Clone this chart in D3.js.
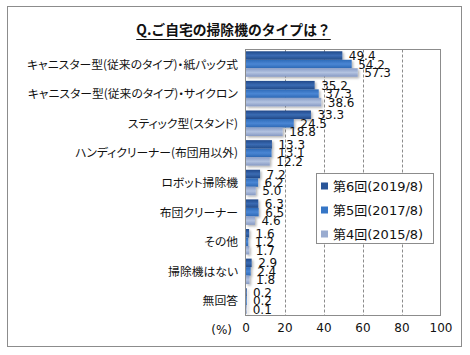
<!DOCTYPE html>
<html><head><meta charset="utf-8">
<script src="https://cdn.jsdelivr.net/npm/d3@7/dist/d3.min.js"></script>
<style>
body{margin:0;background:#fff;}
text{font-family:"DejaVu Sans","Noto Sans CJK JP",sans-serif;}
.jp{font-family:"Noto Sans CJK JP",sans-serif;font-feature-settings:"palt";}
.jt{font-family:"Noto Sans CJK JP",sans-serif;}
</style></head>
<body><svg id="c" width="470" height="355"></svg>
<script>
const categories = ["キャニスター型(従来のタイプ)・紙パック式","キャニスター型(従来のタイプ)・サイクロン","スティック型(スタンド)","ハンディクリーナー(布団用以外)","ロボット掃除機","布団クリーナー","その他","掃除機はない","無回答"];
const seriesNames = ["第6回(2019/8)","第5回(2017/8)","第4回(2015/8)"];
const s6 = [49.4,35.2,33.3,13.3,7.2,6.3,1.6,2.9,0.2];
const s5 = [54.2,37.3,24.5,13.1,6.2,6.5,1.2,2.4,0.2];
const s4 = [57.3,38.6,18.8,12.2,5.0,4.6,1.7,1.8,0.1];
const xTicks = [0,20,40,60,80,100];
const title = "Q.ご自宅の掃除機のタイプは？";

const series = [s6,s5,s4];
const colors = [["#21498a","#3a6bb3","#224a88"],["#2e6ab8","#4a86d4","#2d68b5"],["#8a9ec8","#b2c2e0","#8699c3"]];
const legendColors = ["#2a5699","#3676c6","#9aacd0"];

const svg = d3.select("#c");
const defs = svg.append("defs");
colors.forEach((c,i)=>{
  const g = defs.append("linearGradient").attr("id","g"+i).attr("x1",0).attr("y1",0).attr("x2",0).attr("y2",1);
  g.append("stop").attr("offset","0%").attr("stop-color",c[0]);
  g.append("stop").attr("offset","50%").attr("stop-color",c[1]);
  g.append("stop").attr("offset","100%").attr("stop-color",c[2]);
});
const f = defs.append("filter").attr("id","sh").attr("x","-10%").attr("y","-20%").attr("width","130%").attr("height","160%");
f.append("feDropShadow").attr("dx",1.5).attr("dy",1.5).attr("stdDeviation",0.8).attr("flood-color","#000").attr("flood-opacity",0.3);

// outer frame
svg.append("rect").attr("x",7.5).attr("y",6.5).attr("width",454).attr("height",340).attr("fill","#fff").attr("stroke","#8c8c8c");

// title
const t = svg.append("text").attr("class","jt").attr("x",233.5).attr("y",35).attr("text-anchor","middle")
  .attr("font-size",13.8).attr("font-weight","bold").attr("fill","#111").text(title);
const tb = t.node().getBBox();
svg.append("line").attr("x1",tb.x).attr("x2",tb.x+tb.width).attr("y1",39.5).attr("y2",39.5).attr("stroke","#111").attr("stroke-width",1.2);

const x = d3.scaleLinear().domain([0,100]).range([245.5,440.5]);
const y = d3.scaleBand().domain(categories).range([49.5,315.5]).paddingInner(0.14).paddingOuter(0.06);
const ySub = d3.scaleBand().domain([0,1,2]).range([0,y.bandwidth()]);

// gridlines
svg.append("g").selectAll("line").data(xTicks.slice(1,-1)).join("line")
  .attr("x1",d=>Math.round(x(d))+0.5).attr("x2",d=>Math.round(x(d))+0.5)
  .attr("y1",49.5).attr("y2",315.5).attr("stroke","#8c8c8c").attr("stroke-dasharray","3,2");

// plot border
svg.append("rect").attr("x",245.5).attr("y",49.5).attr("width",195).attr("height",266).attr("fill","none").attr("stroke","#8c8c8c");

// bars
series.forEach((s,i)=>{
  svg.append("g").attr("filter","url(#sh)").selectAll("rect").data(s).join("rect")
    .attr("x",x(0)+0.5).attr("y",(d,j)=>y(categories[j])+ySub(i))
    .attr("width",d=>Math.max(0.8,x(d)-x(0)))
    .attr("height",ySub.bandwidth())
    .attr("fill","url(#g"+i+")");
});
// value labels
series.forEach((s,i)=>{
  svg.append("g").selectAll("text").data(s).join("text")
    .attr("x",d=>x(d)+7).attr("y",(d,j)=>y(categories[j])+ySub(i)+ySub.bandwidth()/2+4.5)
    .attr("font-size",12).attr("fill","#111").text(d=>d3.format(".1f")(d));
});

// y axis line
svg.append("line").attr("x1",245.5).attr("x2",245.5).attr("y1",49.5).attr("y2",315.5).attr("stroke","#8c8c8c");
// category labels
svg.append("g").selectAll("text").data(categories).join("text").attr("class","jp")
  .attr("x",238).attr("y",d=>y(d)+y.bandwidth()/2+4.5).attr("text-anchor","end")
  .attr("font-size",11.8).attr("fill","#111").text(d=>d);

// x axis labels
const xAxis = d3.axisBottom(x).tickValues(xTicks).tickSize(0).tickPadding(8);
const ax = svg.append("g").attr("transform","translate(0,315.5)").call(xAxis);
ax.select(".domain").remove();
ax.selectAll("text").attr("font-size",12).attr("fill","#111").attr("font-family","DejaVu Sans");
svg.append("text").attr("x",232).attr("y",334).attr("text-anchor","end").attr("font-size",12).attr("fill","#111").text("(%)");

// legend
const lg = svg.append("g");
lg.append("rect").attr("x",316.5).attr("y",173.5).attr("width",117).attr("height",70).attr("fill","#fff").attr("stroke","#8c8c8c");
seriesNames.forEach((n,i)=>{
  const cy = 186+i*24;
  lg.append("rect").attr("x",321).attr("y",cy-3.5).attr("width",7).attr("height",7).attr("fill",legendColors[i]);
  lg.append("text").attr("x",333).attr("y",cy+5).attr("font-size",13).attr("fill","#111").text(n);
});
</script></body></html>
